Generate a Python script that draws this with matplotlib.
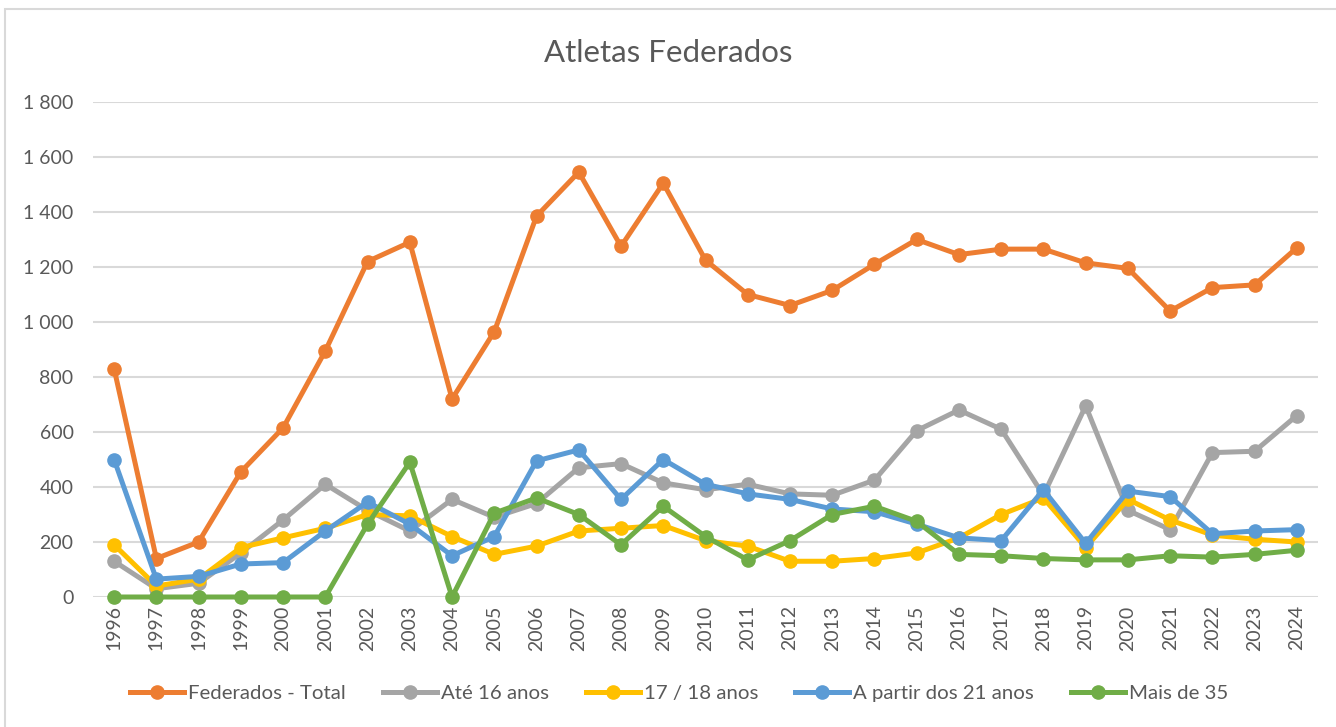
import matplotlib
matplotlib.use("Agg")
import matplotlib.pyplot as plt
from matplotlib.ticker import FuncFormatter
from matplotlib.patches import Rectangle

plt.rcParams["font.family"] = ["Lato", "DejaVu Sans"]

years = list(range(1996, 2025))

total = [830, 140, 200, 455, 615, 895, 1220, 1290, 720, 965, 1385, 1545, 1275, 1505,
         1225, 1100, 1060, 1115, 1210, 1300, 1245, 1265, 1265, 1215, 1195, 1040,
         1125, 1135, 1270]
ate16 = [130, 30, 50, 160, 280, 410, 315, 240, 355, 290, 340, 470, 485, 415, 390, 410,
         375, 370, 425, 605, 680, 610, 370, 695, 315, 245, 525, 530, 660]
s17_18 = [190, 40, 65, 180, 215, 250, 300, 295, 220, 155, 185, 240, 250, 260, 205,
          185, 130, 130, 140, 160, 215, 300, 360, 180, 355, 280, 225, 210, 200]
a21 = [500, 65, 75, 120, 125, 240, 345, 265, 150, 220, 495, 535, 355, 500, 410, 375,
       355, 320, 310, 265, 215, 205, 390, 195, 385, 365, 230, 240, 245]
mais35 = [0, 0, 0, 0, 0, 0, 265, 490, 0, 305, 360, 300, 190, 330, 220, 135, 205, 300,
          330, 275, 155, 150, 140, 135, 135, 150, 145, 155, 170]

series = [
    ("Federados - Total", total, "#ED7D31"),
    ("Até 16 anos", ate16, "#A5A5A5"),
    ("17 / 18 anos", s17_18, "#FFC000"),
    ("A partir dos 21 anos", a21, "#5B9BD5"),
    ("Mais de 35", mais35, "#70AD47"),
]

fig = plt.figure(figsize=(13.36, 7.27), dpi=100)
ax = fig.add_axes([93 / 1336, 1 - 597 / 727, (1318 - 93) / 1336, (597 - 102) / 727])

for label, vals, col in series:
    ax.plot(years, vals, color=col, lw=3.6, marker="o", ms=9.5, label=label,
            clip_on=False, solid_joinstyle="round")

ax.set_xlim(1995.5, 2024.5)
ax.set_ylim(0, 1800)
ax.set_yticks(range(0, 1801, 200))
ax.yaxis.set_major_formatter(FuncFormatter(lambda v, p: f"{int(v):,}".replace(",", " ")))
ax.set_xticks(years)
ax.set_xticklabels([str(y) for y in years], rotation=90)
ax.grid(axis="y", color="#D9D9D9", lw=1.5)
ax.set_axisbelow(True)
for s in ax.spines.values():
    s.set_visible(False)
ax.tick_params(length=0, labelsize=14, colors="#595959", pad=6)
ax.tick_params(axis="y", pad=14)

fig.text(0.5, 1 - 53 / 727, "Atletas Federados", ha="center", va="center",
         fontsize=22.5, color="#595959")

fig.legend(loc="center", bbox_to_anchor=(679 / 1336, 1 - 693 / 727), ncol=5,
           frameon=False, fontsize=14.7, handlelength=2.65, handletextpad=0.2,
           columnspacing=1.8, labelcolor="#595959")

fig.patches.append(Rectangle((5 / 1336, -0.1), 1.2, 1 - 9 / 727 + 0.1,
                             transform=fig.transFigure, fill=False,
                             edgecolor="#D9D9D9", lw=1.5))

fig.savefig("out.png", dpi=100)
